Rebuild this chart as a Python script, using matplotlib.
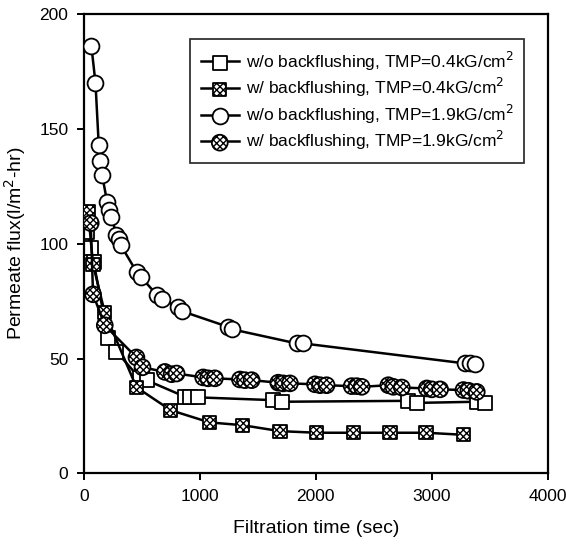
import matplotlib
matplotlib.use('Agg')
import matplotlib.pyplot as plt

plt.rcParams['font.family'] = ['Liberation Sans', 'DejaVu Sans']

# w/o backflushing, TMP=0.4
t_wo_04 = [30, 66, 85, 210, 282, 483, 541, 871, 914, 986, 1633, 1705, 2798, 2870, 3387, 3459]
j_wo_04 = [105, 98, 92, 59, 53, 41.4, 40.6, 33.4, 33.4, 33.1, 31.9, 31.2, 31.6, 30.7, 31.2, 30.7]

# w/ backflushing, TMP=0.4
t_w_04 = [37, 80, 181, 454, 750, 1084, 1366, 1691, 2007, 2323, 2640, 2950, 3272]
j_w_04 = [114, 91, 70, 37.5, 27.5, 22.2, 21, 18.4, 17.7, 17.7, 17.7, 17.7, 16.8]

# w/o backflushing, TMP=1.9
t_wo_19 = [66, 101, 129, 141, 158, 201, 218, 239, 282, 302, 319, 455, 492, 632, 670,
           813, 843, 1245, 1274, 1835, 1892, 3286, 3330, 3373]
j_wo_19 = [186, 170, 143, 136, 130, 118.3, 114.7, 111.7, 103.8, 101.9, 99.4, 87.8, 85.6,
           77.6, 75.8, 72.5, 70.7, 63.8, 62.8, 56.6, 56.6, 47.9, 47.9, 47.5]

# w/ backflushing, TMP=1.9
t_w_19 = [60, 80, 181, 454, 506, 699, 757, 800, 1029, 1072, 1130, 1346, 1389, 1447,
          1676, 1719, 1777, 1993, 2036, 2093, 2309, 2352, 2395, 2625, 2668, 2741,
          2956, 2999, 3071, 3272, 3315, 3387]
j_w_19 = [109, 78, 64.5, 50.5, 46.2, 44.2, 43.2, 43.5, 41.8, 41.4, 41.4, 40.9, 40.6, 40.6,
          39.5, 39.2, 39.2, 38.8, 38.4, 38.4, 38.0, 38.0, 37.7, 38.4, 37.7, 37.4,
          37.0, 36.6, 36.6, 36.3, 36.0, 35.5]

labels = ['w/o backflushing, TMP=0.4kG/cm$^2$',
          'w/ backflushing, TMP=0.4kG/cm$^2$',
          'w/o backflushing, TMP=1.9kG/cm$^2$',
          'w/ backflushing, TMP=1.9kG/cm$^2$']

fig = plt.figure(figsize=(5.66, 5.46), dpi=100)
ax = fig.add_axes([0.148, 0.133, 0.82, 0.841])

series = [(t_wo_04, j_wo_04, 's', None, 90),
          (t_w_04, j_w_04, 's', 'xxxxx', 90),
          (t_wo_19, j_wo_19, 'o', None, 130),
          (t_w_19, j_w_19, 'o', 'xxxxx', 130)]

handles = []
for i, (t, j, mk, hatch, sz) in enumerate(series):
    ln, = ax.plot(t, j, '-', color='black', lw=1.8, zorder=2 + i)
    sc = ax.scatter(t, j, s=sz, marker=mk, facecolor='white', edgecolor='black',
                    linewidths=1.3, hatch=hatch, zorder=2.5 + i)
    handles.append((ln, sc))

ax.set_xlim(0, 4000)
ax.set_ylim(0, 200)
ax.set_xticks([0, 1000, 2000, 3000, 4000])
ax.set_yticks([0, 50, 100, 150, 200])
ax.tick_params(direction='out', length=5, width=1.4, labelsize=12.5, pad=6)
for s in ax.spines.values():
    s.set_linewidth(1.6)

ax.set_xlabel('Filtration time (sec)', fontsize=14, labelpad=12)
ax.set_ylabel('Permeate flux(l/m$^2$-hr)', fontsize=14, labelpad=8)

leg = ax.legend(handles, labels, loc='upper right', bbox_to_anchor=(0.949, 0.946),
                borderaxespad=0, fontsize=12.5, frameon=True, fancybox=False,
                edgecolor='black', handlelength=2.2, handletextpad=0.4,
                labelspacing=0.2, borderpad=0.6, scatterpoints=1)
leg.get_frame().set_linewidth(1.3)

plt.savefig('out.png', dpi=100)
